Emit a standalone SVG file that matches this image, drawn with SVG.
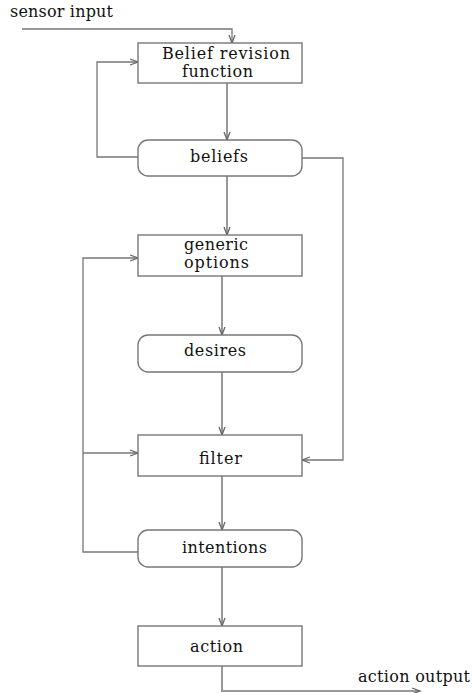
<svg xmlns="http://www.w3.org/2000/svg" width="472" height="693" viewBox="0 0 472 693">
<style>
.box{fill:#fff;stroke:#777;stroke-width:1.4}
.t{font-family:"DejaVu Serif","Liberation Serif",serif;font-size:16px;fill:#111}
.thin{fill:none;stroke:#777;stroke-width:1.3}
.main{fill:none;stroke:#999;stroke-width:2}
</style>
<defs>
<marker id="ah" markerUnits="userSpaceOnUse" markerWidth="12" markerHeight="10" refX="9" refY="4" orient="auto">
<path d="M1,1 L9,4 L1,7" fill="none" stroke="#666" stroke-width="1.3"/>
</marker>
</defs>
<rect width="472" height="693" fill="#fff"/>
<g id="connectors">
<polyline class="thin" points="22,29 232,29 232,43" marker-end="url(#ah)"/>
<polyline class="thin" points="138,157 97,157 97,62 138,62" marker-end="url(#ah)"/>
<polyline class="thin" points="302,158 343,158 343,460 302,460" marker-end="url(#ah)"/>
<polyline class="thin" points="138,552 83,552 83,258 138,258" marker-end="url(#ah)"/>
<line class="thin" x1="83" y1="453" x2="138" y2="453" marker-end="url(#ah)"/>
<line class="main" x1="227" y1="83" x2="227" y2="140" marker-end="url(#ah)"/>
<line class="main" x1="227" y1="176" x2="227" y2="235" marker-end="url(#ah)"/>
<line class="main" x1="222" y1="276" x2="222" y2="335" marker-end="url(#ah)"/>
<line class="main" x1="222" y1="372" x2="222" y2="435" marker-end="url(#ah)"/>
<line class="main" x1="222" y1="476" x2="222" y2="530" marker-end="url(#ah)"/>
<line class="main" x1="222" y1="567" x2="222" y2="626" marker-end="url(#ah)"/>
<polyline class="main" points="222,666 222,691 420,691" marker-end="url(#ah)"/>
</g>
<text class="t" x="10" y="17" textLength="103">sensor input</text>
<text class="t" x="358" y="682" textLength="112">action output</text>
<g id="brf">
<rect class="box" x="138" y="43" width="164" height="40"/>
<text class="t" x="162" y="59" textLength="128">Belief revision</text>
<text class="t" x="182" y="77" textLength="71">function</text>
</g>
<g id="beliefs">
<rect class="box" x="138" y="140" width="164" height="36" rx="10"/>
<text class="t" x="190" y="162" textLength="58">beliefs</text>
</g>
<g id="options">
<rect class="box" x="138" y="235" width="164" height="41"/>
<text class="t" x="184" y="250" textLength="64">generic</text>
<text class="t" x="184" y="268" textLength="65">options</text>
</g>
<g id="desires">
<rect class="box" x="138" y="335" width="164" height="37" rx="10"/>
<text class="t" x="184" y="356" textLength="62">desires</text>
</g>
<g id="filter">
<rect class="box" x="138" y="435" width="164" height="41"/>
<text class="t" x="199" y="464" textLength="43">filter</text>
</g>
<g id="intentions">
<rect class="box" x="138" y="530" width="164" height="37" rx="10"/>
<text class="t" x="182" y="553" textLength="85">intentions</text>
</g>
<g id="action">
<rect class="box" x="138" y="626" width="164" height="40"/>
<text class="t" x="190" y="652" textLength="53">action</text>
</g>
</svg>
